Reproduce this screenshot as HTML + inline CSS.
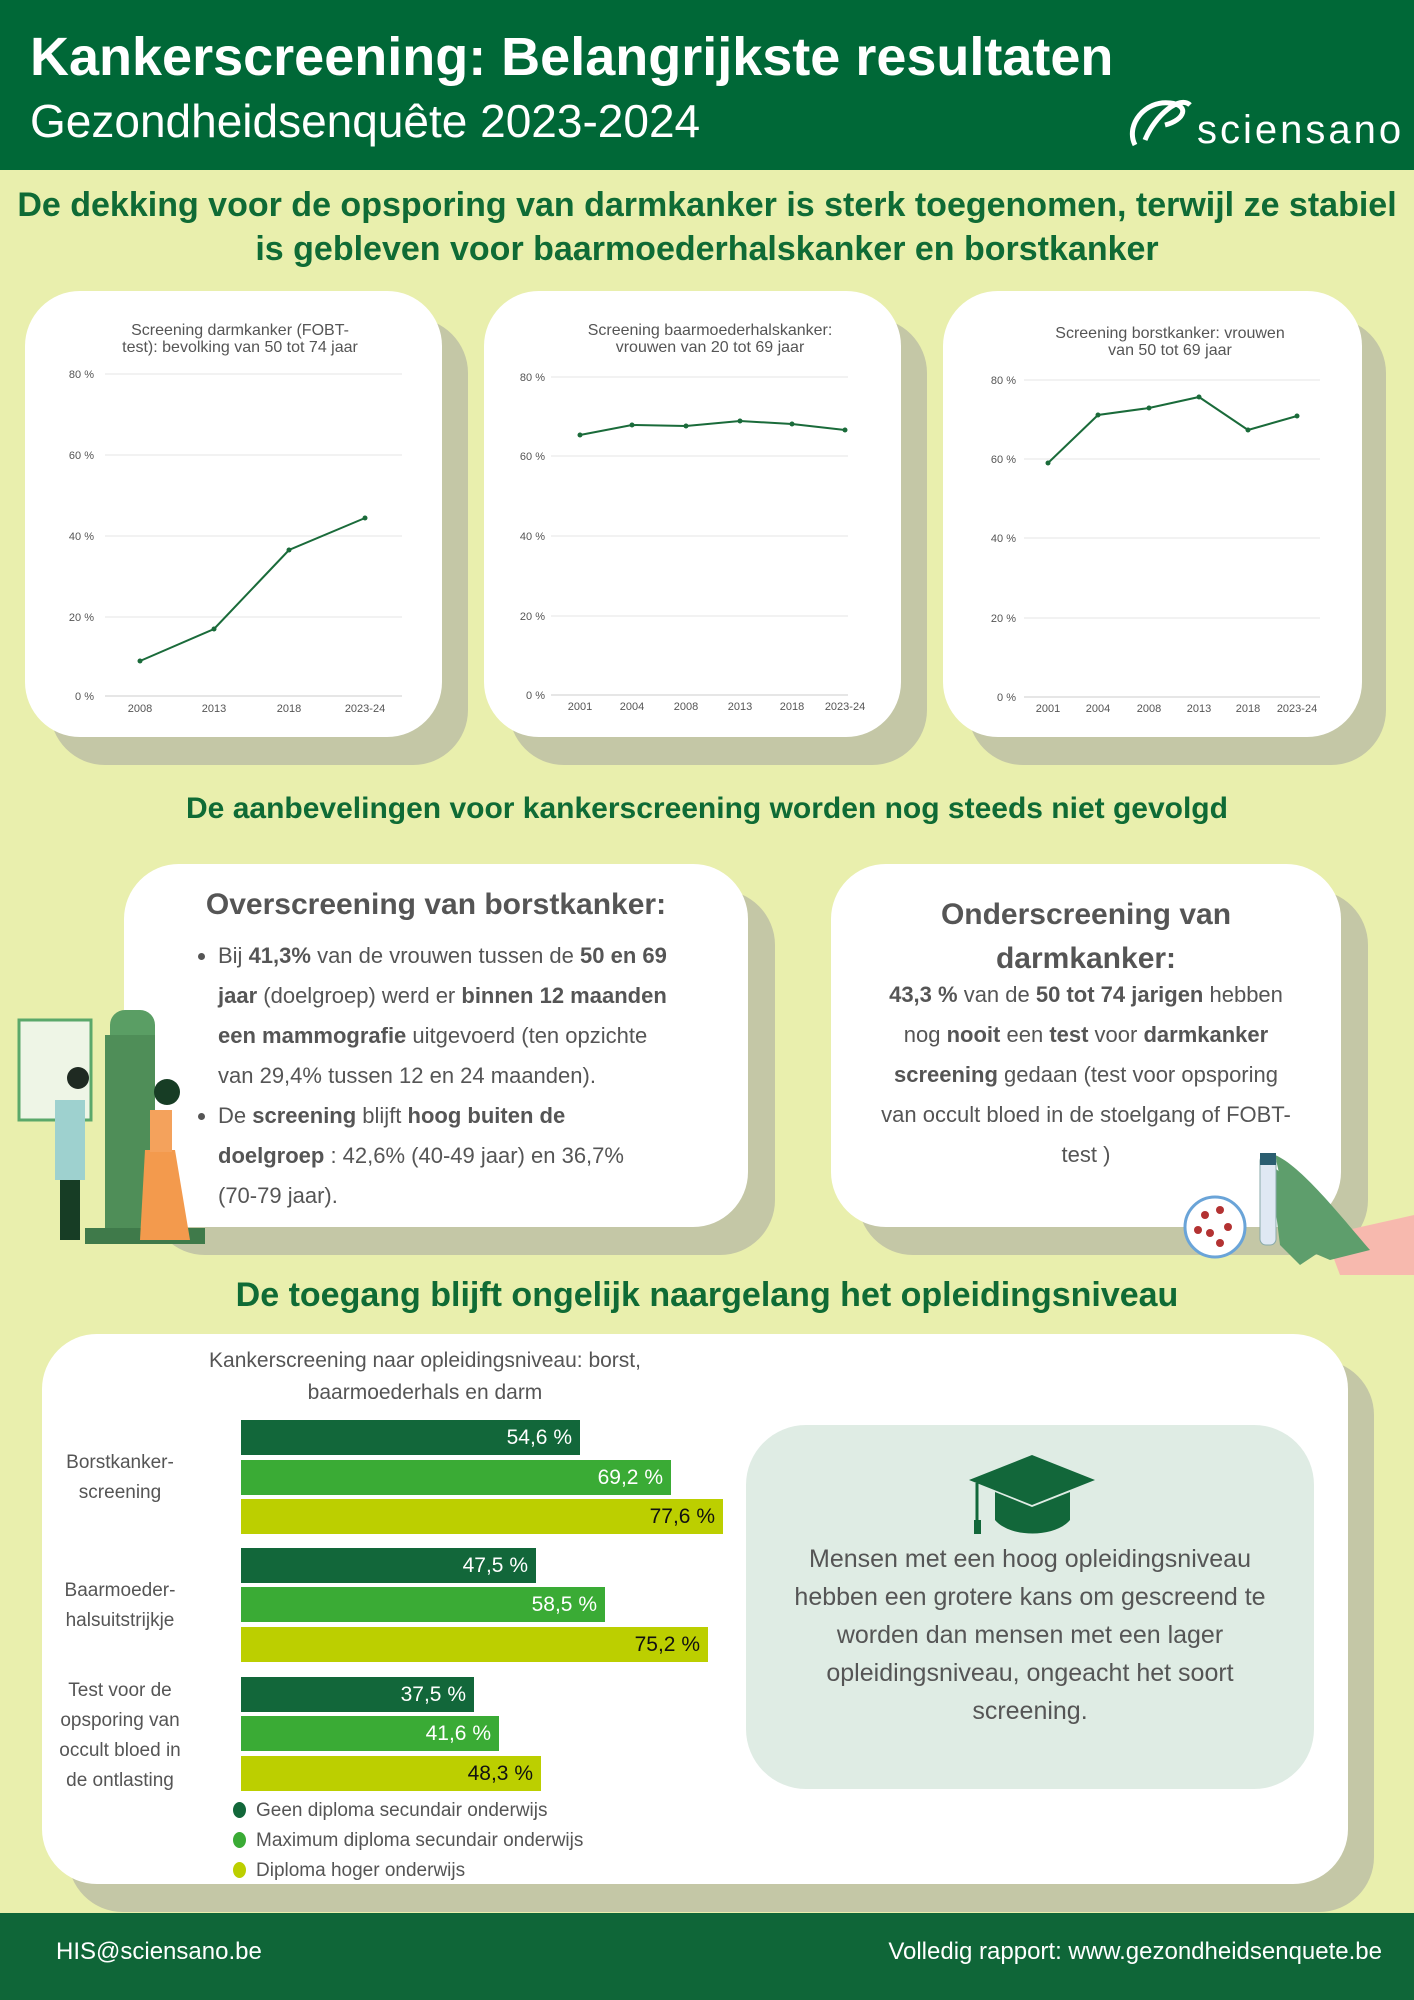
<!DOCTYPE html>
<html><head><meta charset="utf-8"><style>
*{margin:0;padding:0;box-sizing:border-box}
body{width:1414px;height:2000px;background:#e9efad;position:relative;overflow:hidden;font-family:"Liberation Sans",sans-serif;color:#4a4a4a}
.abs{position:absolute}
.hdr{left:0;top:0;width:1414px;height:170px;background:#006837}
.h2{color:#0f6b35;font-weight:bold;font-size:30px;text-align:center;width:1414px;left:0}
.card{position:absolute;background:#fff;border-radius:55px}
.sh{position:absolute;background:#c4c7a6;border-radius:55px}
.ct{font-size:16px;color:#555;text-align:center;line-height:17px}
.foot{left:0;top:1913px;width:1414px;height:87px;background:#0f6638;color:#fff;font-size:24px}
.bar{position:absolute;left:241px;height:35px;color:#fff;font-size:21px;text-align:right;padding-right:8px;line-height:35px}
.d{background:#12673a}.m{background:#3aab35}.l{background:#bccf00;color:#111}
.lab{position:absolute;left:50px;width:140px;text-align:center;font-size:19px;line-height:30px;color:#555}
.leg{position:absolute;left:233px;font-size:19px;color:#555}
.leg i{display:inline-block;width:13px;height:16px;border-radius:50%;margin-right:10px;vertical-align:-2px}
b{color:#555}
</style></head><body>
<div class="abs hdr"></div>
<div class="abs" style="left:30px;top:26px;color:#fff;font-weight:bold;font-size:54px">Kankerscreening: Belangrijkste resultaten</div>
<div class="abs" style="left:30px;top:94px;color:#fff;font-size:46px">Gezondheidsenquête 2023-2024</div>
<svg class="abs" style="left:1125px;top:95px" width="70" height="60"><path d="M10 50 C0 30 20 5 45 8 C65 10 60 25 40 30 M20 45 C30 20 55 0 65 10" stroke="#fff" stroke-width="5" fill="none"/></svg>
<div class="abs" style="left:1197px;top:108px;color:#fff;font-size:40px;letter-spacing:3px">sciensano</div>

<div class="abs h2" style="top:186px;font-size:34px">De dekking voor de opsporing van darmkanker is sterk toegenomen, terwijl ze stabiel</div>
<div class="abs h2" style="top:230px;font-size:34px">is gebleven voor baarmoederhalskanker en borstkanker</div>

<div class="sh" style="left:50px;top:318px;width:418px;height:447px"></div>
<div class="sh" style="left:509px;top:318px;width:418px;height:447px"></div>
<div class="sh" style="left:968px;top:318px;width:418px;height:447px"></div>
<div class="card" style="left:25px;top:291px;width:417px;height:446px"></div>
<div class="card" style="left:484px;top:291px;width:417px;height:446px"></div>
<div class="card" style="left:943px;top:291px;width:419px;height:446px"></div>

<svg class="abs" style="left:0;top:0" width="1414" height="780" font-family="Liberation Sans" font-size="11" fill="#555">
<g stroke="#e6e6e6" stroke-width="1">
<line x1="105" x2="402" y1="374" y2="374"/><line x1="105" x2="402" y1="455" y2="455"/><line x1="105" x2="402" y1="536" y2="536"/><line x1="105" x2="402" y1="617" y2="617"/><line x1="105" x2="402" y1="696" y2="696" stroke="#ccc"/>
<line x1="551" x2="848" y1="377" y2="377"/><line x1="551" x2="848" y1="456" y2="456"/><line x1="551" x2="848" y1="536" y2="536"/><line x1="551" x2="848" y1="616" y2="616"/><line x1="551" x2="848" y1="695" y2="695" stroke="#ccc"/>
<line x1="1024" x2="1320" y1="380" y2="380"/><line x1="1024" x2="1320" y1="459" y2="459"/><line x1="1024" x2="1320" y1="538" y2="538"/><line x1="1024" x2="1320" y1="618" y2="618"/><line x1="1024" x2="1320" y1="697" y2="697" stroke="#ccc"/>
</g>
<g text-anchor="end">
<text x="94" y="378">80 %</text><text x="94" y="459">60 %</text><text x="94" y="540">40 %</text><text x="94" y="621">20 %</text><text x="94" y="700">0 %</text>
<text x="545" y="381">80 %</text><text x="545" y="460">60 %</text><text x="545" y="540">40 %</text><text x="545" y="620">20 %</text><text x="545" y="699">0 %</text>
<text x="1016" y="384">80 %</text><text x="1016" y="463">60 %</text><text x="1016" y="542">40 %</text><text x="1016" y="622">20 %</text><text x="1016" y="701">0 %</text>
</g>
<g text-anchor="middle">
<text x="140" y="712">2008</text><text x="214" y="712">2013</text><text x="289" y="712">2018</text><text x="365" y="712">2023-24</text>
<text x="580" y="710">2001</text><text x="632" y="710">2004</text><text x="686" y="710">2008</text><text x="740" y="710">2013</text><text x="792" y="710">2018</text><text x="845" y="710">2023-24</text>
<text x="1048" y="712">2001</text><text x="1098" y="712">2004</text><text x="1149" y="712">2008</text><text x="1199" y="712">2013</text><text x="1248" y="712">2018</text><text x="1297" y="712">2023-24</text>
</g>
<g stroke="#1a6b3a" stroke-width="2" fill="none">
<polyline points="140,661 214,629 289,550 365,518"/>
<polyline points="580,435 632,425 686,426 740,421 792,424 845,430"/>
<polyline points="1048,463 1098,415 1149,408 1199,397 1248,430 1297,416"/>
</g>
<g fill="#1a6b3a">
<circle cx="140" cy="661" r="2.5"/><circle cx="214" cy="629" r="2.5"/><circle cx="289" cy="550" r="2.5"/><circle cx="365" cy="518" r="2.5"/>
<circle cx="580" cy="435" r="2.5"/><circle cx="632" cy="425" r="2.5"/><circle cx="686" cy="426" r="2.5"/><circle cx="740" cy="421" r="2.5"/><circle cx="792" cy="424" r="2.5"/><circle cx="845" cy="430" r="2.5"/>
<circle cx="1048" cy="463" r="2.5"/><circle cx="1098" cy="415" r="2.5"/><circle cx="1149" cy="408" r="2.5"/><circle cx="1199" cy="397" r="2.5"/><circle cx="1248" cy="430" r="2.5"/><circle cx="1297" cy="416" r="2.5"/>
</g>
</svg>
<div class="abs ct" style="left:90px;top:322px;width:300px">Screening darmkanker (FOBT-<br>test): bevolking van 50 tot 74 jaar</div>
<div class="abs ct" style="left:540px;top:322px;width:340px">Screening baarmoederhalskanker:<br>vrouwen van 20 tot 69 jaar</div>
<div class="abs ct" style="left:1010px;top:325px;width:320px">Screening borstkanker: vrouwen<br>van 50 tot 69 jaar</div>

<div class="abs h2" style="top:792px">De aanbevelingen voor kankerscreening worden nog steeds niet gevolgd</div>

<div class="sh" style="left:150px;top:890px;width:625px;height:365px"></div>
<div class="sh" style="left:858px;top:890px;width:510px;height:365px"></div>
<div class="card" style="left:124px;top:864px;width:624px;height:363px"></div>
<div class="card" style="left:831px;top:864px;width:510px;height:363px"></div>

<div class="abs" style="left:124px;top:888px;width:624px;text-align:center;font-weight:bold;font-size:30px;color:#555">Overscreening van borstkanker:</div>
<ul class="abs" style="left:200px;top:936px;width:468px;font-size:22px;line-height:40px;color:#555;padding-left:18px">
<li>Bij <b>41,3%</b> van de vrouwen tussen de <b>50 en 69 jaar</b> (doelgroep) werd er <b>binnen 12 maanden een mammografie</b> uitgevoerd (ten opzichte van 29,4% tussen 12 en 24 maanden).</li>
<li>De <b>screening</b> blijft <b>hoog buiten de doelgroep</b> : 42,6% (40-49 jaar) en 36,7% (70-79 jaar).</li>
</ul>
<div class="abs" style="left:831px;top:893px;width:510px;text-align:center;font-weight:bold;font-size:30px;line-height:44px;color:#555">Onderscreening van<br>darmkanker:</div>
<div class="abs" style="left:876px;top:975px;width:420px;text-align:center;font-size:22px;line-height:40px;color:#555"><b>43,3 %</b> van de <b>50 tot 74 jarigen</b> hebben nog <b>nooit</b> een <b>test</b> voor <b>darmkanker screening</b> gedaan (test voor opsporing van occult bloed in de stoelgang of FOBT-test )</div>

<svg class="abs" style="left:15px;top:1000px" width="190" height="250">
<rect x="4" y="20" width="72" height="100" fill="#eef5e6" stroke="#5aa86a" stroke-width="3"/>
<rect x="95" y="10" width="45" height="60" rx="15" fill="#5a9e64"/>
<rect x="90" y="35" width="50" height="200" fill="#4f8e58"/>
<rect x="70" y="228" width="130" height="16" fill="#3f7a4a"/>
<rect x="40" y="100" width="30" height="80" fill="#9ed1cf"/>
<rect x="45" y="180" width="20" height="60" fill="#173d25"/>
<circle cx="63" cy="78" r="11" fill="#1f2a22"/>
<path d="M130 150 L160 150 L175 240 L125 240 Z" fill="#f39a4d"/>
<rect x="135" y="110" width="22" height="42" fill="#f4a25c"/>
<circle cx="152" cy="92" r="13" fill="#173d25"/>
</svg>
<svg class="abs" style="left:1180px;top:1135px" width="234" height="140">
<path d="M90 30 C110 40 130 80 150 110 L120 130 L100 110 Z" fill="#5e9e6c"/>
<path d="M145 100 L234 80 L234 140 L160 140 Z" fill="#f7b9ae"/>
<path d="M95 20 C120 30 160 80 190 115 L150 125 L115 110 Z" fill="#5e9e6c"/>
<rect x="80" y="20" width="16" height="90" rx="6" fill="#dfe8f3" stroke="#8aa" />
<rect x="80" y="18" width="16" height="12" fill="#2b5e70"/>
<circle cx="35" cy="92" r="30" fill="#fff" stroke="#6aa4d8" stroke-width="3"/>
<g fill="#b33232"><circle cx="25" cy="80" r="4"/><circle cx="40" cy="75" r="4"/><circle cx="48" cy="92" r="4"/><circle cx="30" cy="98" r="4"/><circle cx="18" cy="95" r="4"/><circle cx="40" cy="108" r="4"/></g>
</svg>

<div class="abs h2" style="top:1276px;font-size:34px">De toegang blijft ongelijk naargelang het opleidingsniveau</div>

<div class="sh" style="left:68px;top:1360px;width:1306px;height:552px"></div>
<div class="card" style="left:42px;top:1334px;width:1306px;height:550px"></div>

<div class="abs" style="left:150px;top:1345px;width:550px;text-align:center;font-size:21px;line-height:32px;color:#555">Kankerscreening naar opleidingsniveau: borst,<br>baarmoederhals en darm</div>
<div class="bar d" style="top:1420px;width:339px">54,6 %</div>
<div class="bar m" style="top:1460px;width:430px">69,2 %</div>
<div class="bar l" style="top:1499px;width:482px">77,6 %</div>
<div class="bar d" style="top:1548px;width:295px">47,5 %</div>
<div class="bar m" style="top:1587px;width:364px">58,5 %</div>
<div class="bar l" style="top:1627px;width:467px">75,2 %</div>
<div class="bar d" style="top:1677px;width:233px">37,5 %</div>
<div class="bar m" style="top:1716px;width:258px">41,6 %</div>
<div class="bar l" style="top:1756px;width:300px">48,3 %</div>
<div class="lab" style="top:1448px">Borstkanker-<br>screening</div>
<div class="lab" style="top:1576px">Baarmoeder-<br>halsuitstrijkje</div>
<div class="lab" style="top:1676px">Test voor de<br>opsporing van<br>occult bloed in<br>de ontlasting</div>
<div class="leg" style="top:1800px"><i style="background:#12673a"></i>Geen diploma secundair onderwijs</div>
<div class="leg" style="top:1830px"><i style="background:#3aab35"></i>Maximum diploma secundair onderwijs</div>
<div class="leg" style="top:1860px"><i style="background:#bccf00"></i>Diploma hoger onderwijs</div>

<div class="abs" style="left:746px;top:1425px;width:568px;height:364px;background:#dfece4;border-radius:60px"></div>
<svg class="abs" style="left:965px;top:1450px" width="135" height="90">
<path d="M67 5 L130 30 L67 55 L4 30 Z" fill="#12673a"/>
<path d="M30 42 L30 70 C45 88 90 88 105 70 L105 42 L67 57 Z" fill="#12673a"/>
<line x1="12" y1="33" x2="12" y2="75" stroke="#12673a" stroke-width="3"/>
<rect x="9" y="70" width="7" height="14" fill="#12673a"/>
</svg>
<div class="abs" style="left:780px;top:1540px;width:500px;text-align:center;font-size:25px;line-height:38px;color:#555">Mensen met een hoog opleidingsniveau hebben een grotere kans om gescreend te worden dan mensen met een lager opleidingsniveau, ongeacht het soort screening.</div>

<div class="abs foot"></div>
<div class="abs" style="left:56px;top:1938px;color:#fff;font-size:24px">HIS@sciensano.be</div>
<div class="abs" style="right:32px;top:1938px;color:#fff;font-size:24px">Volledig rapport: www.gezondheidsenquete.be</div>
</body></html>
